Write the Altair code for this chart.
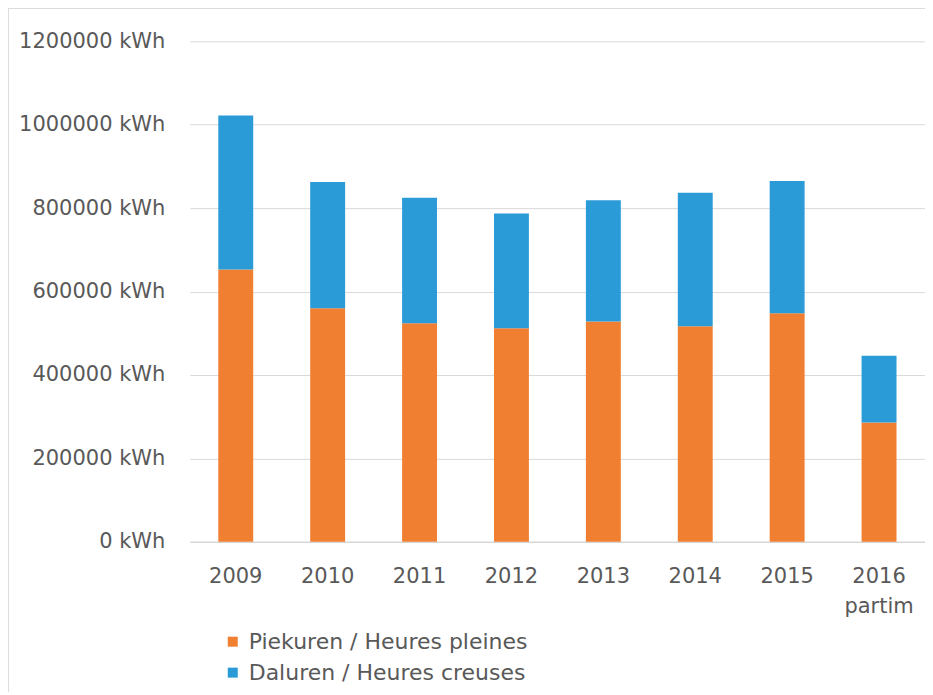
import altair as alt
import pandas as pd

years = ["2009", "2010", "2011", "2012", "2013", "2014", "2015", "2016 partim"]
piekuren = [653000, 560000, 524000, 512000, 528000, 517000, 548000, 286000]
daluren = [369000, 303000, 301000, 275000, 291000, 320000, 317000, 160000]
series = ["Piekuren / Heures pleines", "Daluren / Heures creuses"]
colors = ["#F07F32", "#2B9BD8"]
y_ticks = [0, 200000, 400000, 600000, 800000, 1000000, 1200000]

rows = []
for i, yr in enumerate(years):
    rows.append({"year": yr, "serie": series[0], "kwh": piekuren[i], "ord": 0})
    rows.append({"year": yr, "serie": series[1], "kwh": daluren[i], "ord": 1})
df = pd.DataFrame(rows)

FONT = "DejaVu Sans"
TXT = "#595959"

bars = alt.Chart(df).mark_bar().encode(
    x=alt.X("year:N", sort=years, title=None,
            scale=alt.Scale(paddingInner=0.62, paddingOuter=0.31),
            axis=alt.Axis(labelAngle=0, ticks=False, domainColor="#D0D0D0",
                          labelPadding=24, labelLineHeight=30,
                          labelExpr="split(datum.label, ' ')",
                          labelFont=FONT, labelFontSize=21, labelColor=TXT)),
    y=alt.Y("kwh:Q", stack="zero", title=None,
            scale=alt.Scale(domain=[0, 1200000], nice=False),
            axis=alt.Axis(values=y_ticks, domain=False, ticks=False,
                          gridColor="#D9D9D9", labelPadding=25,
                          labelExpr="format(datum.value, 'd') + ' kWh'",
                          labelFont=FONT, labelFontSize=21, labelColor=TXT)),
    color=alt.Color("serie:N", scale=alt.Scale(domain=series, range=colors),
                    legend=alt.Legend(title=None, orient="none", legendX=32, legendY=590,
                                      direction="vertical", symbolType="square",
                                      symbolSize=100, symbolStrokeWidth=0,
                                      labelOffset=5, rowPadding=9, padding=0,
                                      labelLimit=0,
                                      labelFont=FONT, labelFontSize=22, labelColor=TXT)),
    order=alt.Order("ord:Q", sort="ascending"),
)

border_left = alt.Chart(df).mark_rule(color="#DDDDDD", strokeWidth=1).encode(
    x=alt.value(-182), y=alt.value(-33), y2=alt.value(700))
border_top = alt.Chart(df).mark_rule(color="#DDDDDD", strokeWidth=1).encode(
    y=alt.value(-33), x=alt.value(-182), x2=alt.value(740))

chart = alt.layer(bars, border_left, border_top).properties(
    width=736, height=501,
    autosize=alt.AutoSizeParams(type="none"),
    padding={"left": 182, "top": 33, "right": 0, "bottom": 150},
).configure_view(stroke=None)

chart.save("out.html", embed_options={"renderer": "svg", "actions": False})
